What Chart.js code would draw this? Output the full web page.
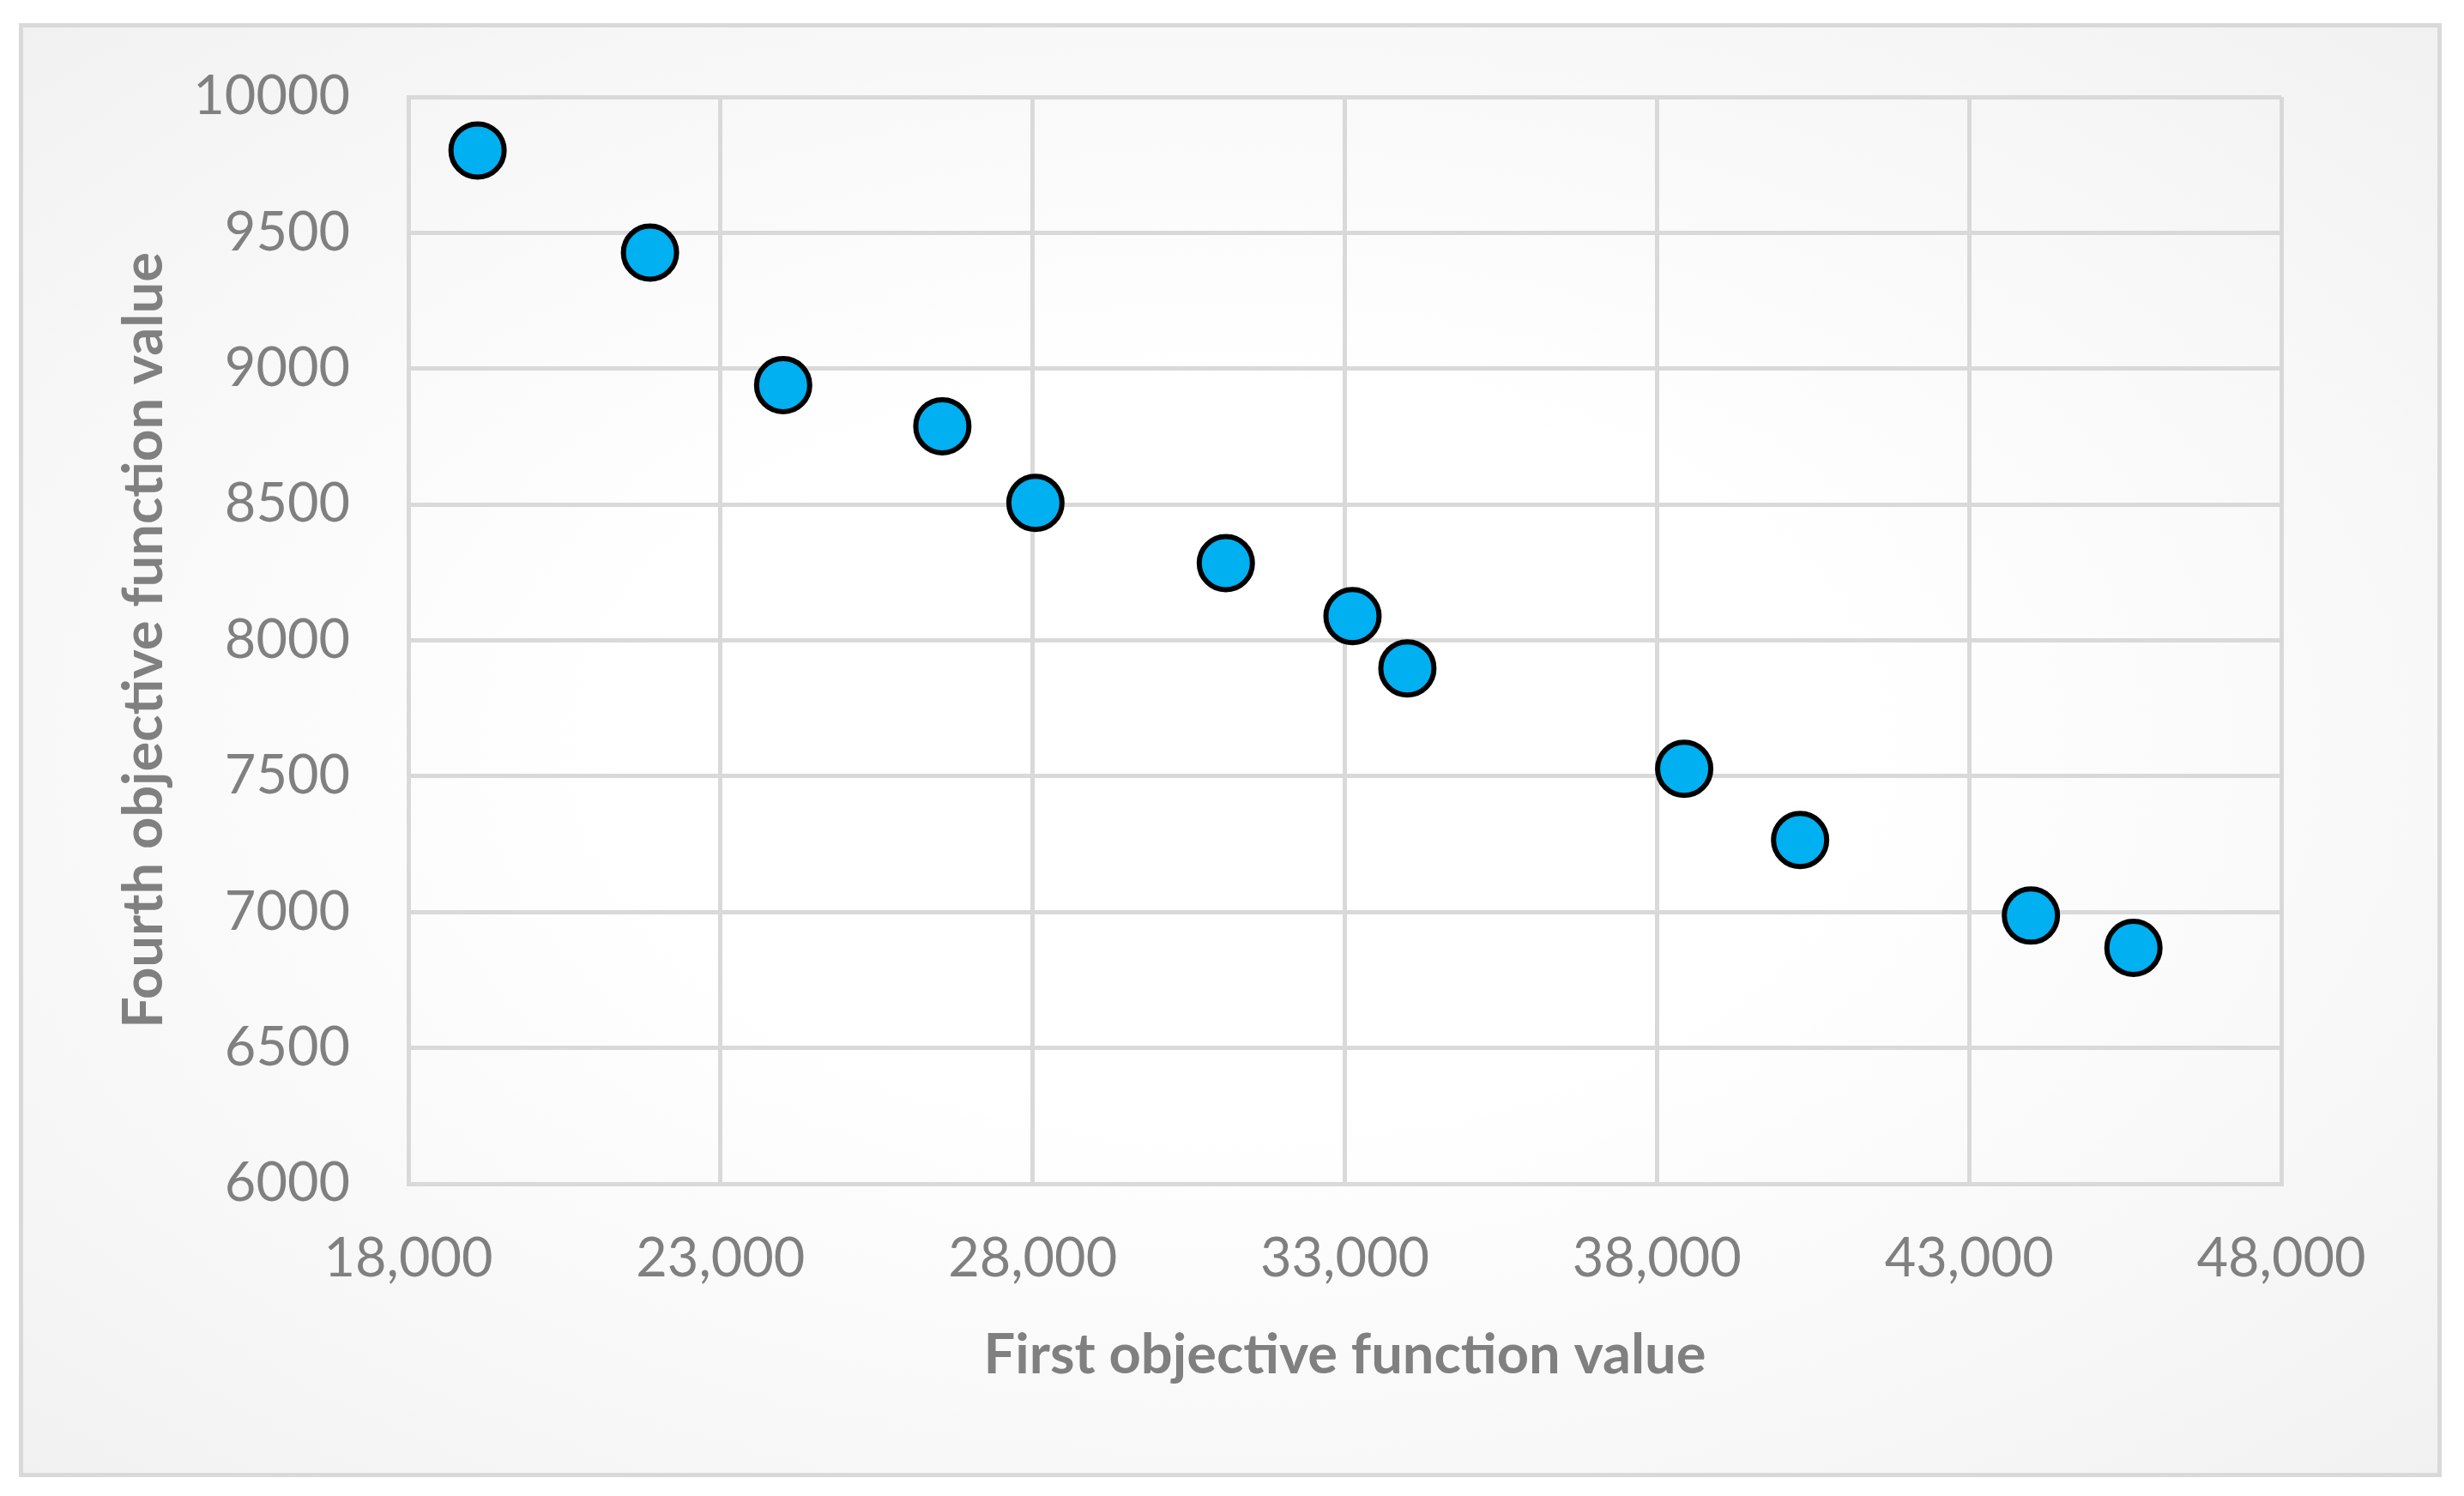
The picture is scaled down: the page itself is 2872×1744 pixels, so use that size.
<!DOCTYPE html>
<html>
<head>
<meta charset="utf-8">
<script src="https://cdn.jsdelivr.net/npm/chart.js@4.4.1/dist/chart.umd.min.js"></script>
<style>
    html, body { margin: 0; padding: 0; background: #ffffff; }
    #frame {
        position: absolute;
        left: 22px;
        top: 27px;
        width: 2824px;
        height: 1695px;
        box-sizing: border-box;
        border: 5px solid #d9d9d9;
        background: radial-gradient(ellipse at center, #ffffff 35%, #f7f7f7 75%, #f1f1f1 100%);
    }
    #chart { position: absolute; left: 0; top: 0; }
</style>
</head>
<body>
<div id="frame"></div>
<canvas id="chart" width="2872" height="1744"></canvas>
<script>
// first objective (x) and fourth objective (y) for each solution
const firstObjective = [19108, 21870, 24003, 26553, 28044, 31094, 33123, 34002, 38436, 40293, 43990, 45632];
const fourthObjective = [9803, 9427, 8939, 8788, 8506, 8284, 8089, 7897, 7527, 7265, 6987, 6868];

const xTicks = [18000, 23000, 28000, 33000, 38000, 43000, 48000];
const xTickLabels = ['18,000', '23,000', '28,000', '33,000', '38,000', '43,000', '48,000'];
const yTicks = [6000, 6500, 7000, 7500, 8000, 8500, 9000, 9500, 10000];
const yTickLabels = ['6000', '6500', '7000', '7500', '8000', '8500', '9000', '9500', '10000'];

const textColor = '#808080';
const gridColor = '#d9d9d9';

const points = firstObjective.map((x, i) => ({ x: x, y: fourthObjective[i] }));

new Chart('chart', {
    type: 'scatter',
    data: {
        datasets: [{
            data: points,
            backgroundColor: '#00b0f0',
            borderColor: '#000000',
            pointRadius: 31,
            pointHoverRadius: 31,
            pointBorderWidth: 6
        }]
    },
    options: {
        responsive: false,
        animation: false,
        layout: {
            padding: { left: 0, top: 113, right: 213, bottom: 0 }
        },
        plugins: {
            legend: { display: false },
            tooltip: { enabled: false }
        },
        scales: {
            x: {
                type: 'linear',
                min: 18000,
                max: 48000,
                afterBuildTicks: (scale) => {
                    scale.ticks = xTicks.map(v => ({ value: v }));
                },
                afterFit: (scale) => {
                    scale.height = 364;
                },
                ticks: {
                    color: textColor,
                    font: { family: 'Lato', size: 63 },
                    padding: 50,
                    maxRotation: 0,
                    callback: (value) => xTickLabels[xTicks.indexOf(value)]
                },
                grid: { color: gridColor, lineWidth: 5, drawTicks: false },
                border: { color: gridColor, width: 5 },
                title: {
                    display: true,
                    text: 'First objective function value',
                    color: textColor,
                    font: { family: 'Lato', size: 65, weight: 'bold' },
                    padding: { top: 0, bottom: 125 }
                }
            },
            y: {
                type: 'linear',
                min: 6000,
                max: 10000,
                afterBuildTicks: (scale) => {
                    scale.ticks = yTicks.map(v => ({ value: v }));
                },
                afterFit: (scale) => {
                    scale.width = 476;
                },
                ticks: {
                    color: textColor,
                    font: { family: 'Lato', size: 63 },
                    padding: 68,
                    callback: (value) => yTickLabels[yTicks.indexOf(value)]
                },
                grid: { color: gridColor, lineWidth: 5, drawTicks: false },
                border: { color: gridColor, width: 5 },
                title: {
                    display: true,
                    text: 'Fourth objective function value',
                    color: textColor,
                    font: { family: 'Lato', size: 65, weight: 'bold' },
                    padding: { top: 129, bottom: 0 }
                }
            }
        }
    }
});
</script>
</body>
</html>
